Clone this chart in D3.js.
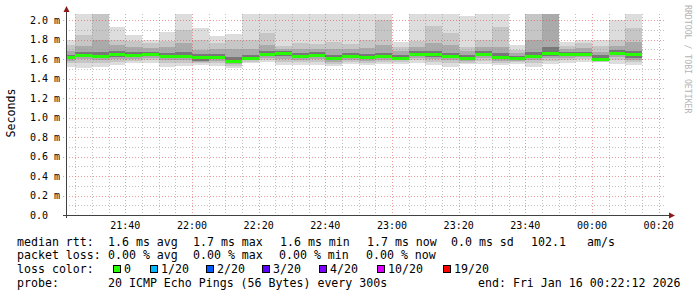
<!DOCTYPE html>
<html>
<head>
<meta charset="utf-8">
<script src="https://cdn.jsdelivr.net/npm/d3@7"></script>
<style>
  body { margin: 0; background: #fff; }
  svg text { font-family: "DejaVu Sans Mono", monospace; fill: #000; }
</style>
</head>
<body>
<div id="chart"></div>
<script>
// 5 minute slots (start time of each step)
const slotStart = ["21:20","21:25","21:30","21:35","21:40","21:45","21:50","21:55",
  "22:00","22:05","22:10","22:15","22:20","22:25","22:30","22:35","22:40","22:45","22:50","22:55",
  "23:00","23:05","23:10","23:15","23:20","23:25","23:30","23:35","23:40","23:45","23:50","23:55",
  "00:00","00:05","00:10"];

// smoke distribution per slot, in ms
const rttMax = [1.79,2.06,2.06,1.93,1.85,1.80,1.88,2.06,1.92,1.84,1.86,2.06,2.06,2.06,2.06,2.06,2.06,2.06,2.06,2.06,1.77,2.06,2.06,2.06,2.04,2.06,2.06,1.74,2.06,2.06,1.77,1.80,1.80,2.00,2.06];
const rttP90 = [1.74,1.85,2.06,1.80,1.78,1.76,1.78,1.90,1.80,1.76,1.79,1.79,1.87,1.73,1.76,1.75,1.77,1.75,1.80,2.00,1.72,1.78,1.94,1.87,1.72,1.80,1.93,1.69,2.06,2.06,1.73,1.76,1.73,1.80,1.92];
const rttP75 = [1.68,1.73,1.79,1.74,1.72,1.71,1.72,1.76,1.69,1.70,1.70,1.70,1.74,1.70,1.70,1.70,1.70,1.70,1.71,1.74,1.68,1.72,1.76,1.74,1.68,1.72,1.72,1.66,1.80,2.06,1.70,1.71,1.67,1.73,1.77];
const rttP60 = [1.64,1.67,1.67,1.68,1.67,1.67,1.66,1.67,1.65,1.65,1.62,1.64,1.68,1.68,1.66,1.67,1.64,1.66,1.65,1.66,1.64,1.68,1.68,1.66,1.64,1.68,1.66,1.63,1.67,1.72,1.67,1.67,1.64,1.69,1.68];
const rttMedian = [1.62,1.64,1.63,1.65,1.64,1.65,1.63,1.63,1.62,1.62,1.58,1.61,1.65,1.66,1.63,1.64,1.61,1.63,1.62,1.63,1.61,1.65,1.65,1.63,1.61,1.65,1.62,1.61,1.63,1.66,1.65,1.65,1.60,1.66,1.65];
const rttP40 = [1.60,1.62,1.61,1.62,1.62,1.63,1.61,1.61,1.58,1.60,1.56,1.60,1.63,1.63,1.61,1.62,1.59,1.61,1.60,1.61,1.60,1.63,1.62,1.61,1.59,1.63,1.60,1.59,1.61,1.63,1.63,1.63,1.58,1.64,1.61];
const rttP25 = [1.58,1.60,1.59,1.60,1.60,1.61,1.59,1.59,1.57,1.58,1.55,1.59,1.61,1.60,1.59,1.60,1.57,1.59,1.58,1.59,1.59,1.61,1.60,1.59,1.58,1.61,1.58,1.58,1.59,1.61,1.61,1.62,1.58,1.62,1.59];
const rttP10 = [1.56,1.56,1.56,1.57,1.58,1.59,1.56,1.56,1.56,1.56,1.53,1.57,1.59,1.57,1.57,1.57,1.55,1.57,1.56,1.57,1.57,1.59,1.57,1.56,1.56,1.58,1.56,1.57,1.56,1.58,1.59,1.60,1.57,1.59,1.57];
const rttMin = [1.52,1.51,1.52,1.54,1.56,1.56,1.52,1.53,1.54,1.53,1.51,1.56,1.57,1.54,1.54,1.54,1.53,1.55,1.54,1.55,1.55,1.56,1.54,1.52,1.55,1.55,1.54,1.55,1.52,1.55,1.56,1.57,1.57,1.55,1.54];

// axes
const yTickValues = [0,0.2,0.4,0.6,0.8,1.0,1.2,1.4,1.6,1.8,2.0];
const yTickLabels = ["0.0","0.2 m","0.4 m","0.6 m","0.8 m","1.0 m","1.2 m","1.4 m","1.6 m","1.8 m","2.0 m"];
const xTickLabels = ["21:40","22:00","22:20","22:40","23:00","23:20","23:40","00:00","00:20"];

// legend
const lossLabels = ["0","1/20","2/20","3/20","4/20","10/20","19/20"];
const lossColors = ["#26ff00","#00b8ff","#0059ff","#5e00ff","#7e00ff","#dd00ff","#ff0000"];
const rttStats = ["1.6 ms avg","1.7 ms max","1.6 ms min","1.7 ms now","0.0 ms sd","102.1","am/s"];
const lossStats = ["0.00 % avg","0.00 % max","0.00 % min","0.00 % now"];

const toDate = s => {
  const [h, m] = s.split(":").map(Number);
  return new Date(2026, 0, h < 12 ? 16 : 15, h, m);
};

const svg = d3.select("#chart").append("svg")
  .attr("width", 697).attr("height", 297)
  .style("display", "block");

const tStart = new Date(2026, 0, 15, 21, 22, 12),
      tEnd = new Date(2026, 0, 16, 0, 22, 12);
const x = d3.scaleTime().domain([tStart, tEnd]).range([66, 666]);
const y = d3.scaleLinear().domain([0, 2]).range([215, 20]);

svg.append("clipPath").attr("id", "plot")
  .append("rect").attr("x", 67).attr("y", 14).attr("width", 599).attr("height", 201);

const bars = slotStart.map((s, i) => ({
  t0: toDate(s), t1: d3.timeMinute.offset(toDate(s), 5),
  min: rttMin[i], p10: rttP10[i], p25: rttP25[i], p40: rttP40[i], med: rttMedian[i],
  p60: rttP60[i], p75: rttP75[i], p90: rttP90[i], max: rttMax[i]
}));

// smoke: outer pairs light, inner darker
const bands = [["min","max","#dddddd"],["p10","p90","#c6c6c6"],["p25","p75","#aaaaaa"],["p40","p60","#787878"]];
const smoke = svg.append("g").attr("clip-path", "url(#plot)");
bands.forEach(([lo, hi, col]) => {
  smoke.selectAll(null).data(bars).enter().append("rect")
    .attr("x", d => Math.round(x(d.t0)))
    .attr("width", d => Math.round(x(d.t1)) - Math.round(x(d.t0)))
    .attr("y", d => Math.round(y(d[hi])))
    .attr("height", d => Math.round(y(d[lo])) - Math.round(y(d[hi])))
    .attr("fill", col);
});

// grid
const grid = svg.append("g").attr("shape-rendering", "crispEdges");
const minorT = x.ticks(d3.timeMinute.every(5)).filter(t => t.getMinutes() % 20 !== 0);
const majorT = x.ticks(d3.timeMinute.every(20));
grid.selectAll(".vmin").data(minorT).enter().append("line")
  .attr("x1", d => Math.round(x(d)) + 0.5).attr("x2", d => Math.round(x(d)) + 0.5)
  .attr("y1", 14).attr("y2", 215)
  .attr("stroke", "rgba(140,140,140,0.55)").attr("stroke-dasharray", "1,2");
grid.selectAll(".hmin").data(y.ticks(20).filter(v => Math.round(v * 10) % 2 === 1)).enter().append("line")
  .attr("y1", d => Math.round(y(d)) + 0.5).attr("y2", d => Math.round(y(d)) + 0.5)
  .attr("x1", 66).attr("x2", 666)
  .attr("stroke", "rgba(140,140,140,0.55)").attr("stroke-dasharray", "1,2");
grid.selectAll(".vmaj").data(majorT).enter().append("line")
  .attr("x1", d => Math.round(x(d)) + 0.5).attr("x2", d => Math.round(x(d)) + 0.5)
  .attr("y1", 14).attr("y2", 218)
  .attr("stroke", "rgba(220,60,60,0.5)").attr("stroke-dasharray", "1,2");
grid.selectAll(".hmaj").data(yTickValues.slice(1)).enter().append("line")
  .attr("y1", d => Math.round(y(d)) + 0.5).attr("y2", d => Math.round(y(d)) + 0.5)
  .attr("x1", 63).attr("x2", 666)
  .attr("stroke", "rgba(220,60,60,0.5)").attr("stroke-dasharray", "1,2");

// median line, coloured by loss
svg.append("g").attr("clip-path", "url(#plot)").selectAll(null).data(bars).enter().append("rect")
  .attr("x", d => Math.round(x(d.t0)))
  .attr("width", d => Math.round(x(d.t1)) - Math.round(x(d.t0)))
  .attr("y", d => Math.round(y(d.med)) - 1)
  .attr("height", 3)
  .attr("fill", lossColors[0]);

// axes + arrows
svg.append("line").attr("x1", 63).attr("x2", 670).attr("y1", 215.5).attr("y2", 215.5)
  .attr("stroke", "#404040");
svg.append("line").attr("x1", 66.5).attr("x2", 66.5).attr("y1", 218).attr("y2", 11)
  .attr("stroke", "#404040");
svg.append("path").attr("d", "M669,212.5L675,215.5L669,218.5Z").attr("fill", "#8b1a1a");
svg.append("path").attr("d", "M63.5,12L66.5,6L69.5,12Z").attr("fill", "#8b1a1a");

// tick labels are left-aligned like rrdtool's padded "%4.1lf %s"
svg.selectAll(".ylab").data(yTickValues).enter().append("text")
  .attr("x", 30).attr("y", d => y(d)).attr("dy", "0.36em")
  .style("font-size", "10px")
  .text((d, i) => yTickLabels[i]);

svg.selectAll(".xlab").data(xTickLabels).enter().append("text")
  .attr("x", d => x(toDate(d))).attr("y", 228.5)
  .attr("text-anchor", "middle").style("font-size", "10px")
  .text(d => d);

svg.append("text").attr("transform", "translate(15,113) rotate(-90)")
  .attr("text-anchor", "middle").style("font-size", "11.6px").text("Seconds");

svg.append("text").attr("transform", "translate(685,5) rotate(90)")
  .style("font-size", "8.2px").style("fill", "#b4b4b4").text("RRDTOOL / TOBI OETIKER");

// legend
const lg = svg.append("g").style("font-size", "11.6px");
const row = (txt, xPos, yPos) => lg.append("text").attr("x", xPos).attr("y", yPos)
  .style("white-space", "pre").text(txt);

row("median rtt:", 17, 245.5);
[108, 193, 280, 367, 451, 531, 587].forEach((px, i) => row(rttStats[i], px, 245.5));
row("packet loss:", 17, 258.5);
[108, 193, 279, 366].forEach((px, i) => row(lossStats[i], px, 258.5));
row("loss color:", 17, 273);
[113, 150, 206, 262, 319, 377, 443].forEach((px, i) => {
  lg.append("rect").attr("x", px + 0.5).attr("y", 265.5).attr("width", 7).attr("height", 7)
    .attr("fill", lossColors[i]).attr("stroke", "#000");
  row(lossLabels[i], px + 11, 273);
});
row("probe:", 17, 286.5);
row("20 ICMP Echo Pings (56 Bytes) every 300s", 108, 286.5);
row("end: Fri Jan 16 00:22:12 2026", 478, 286.5);
</script>
</body>
</html>
